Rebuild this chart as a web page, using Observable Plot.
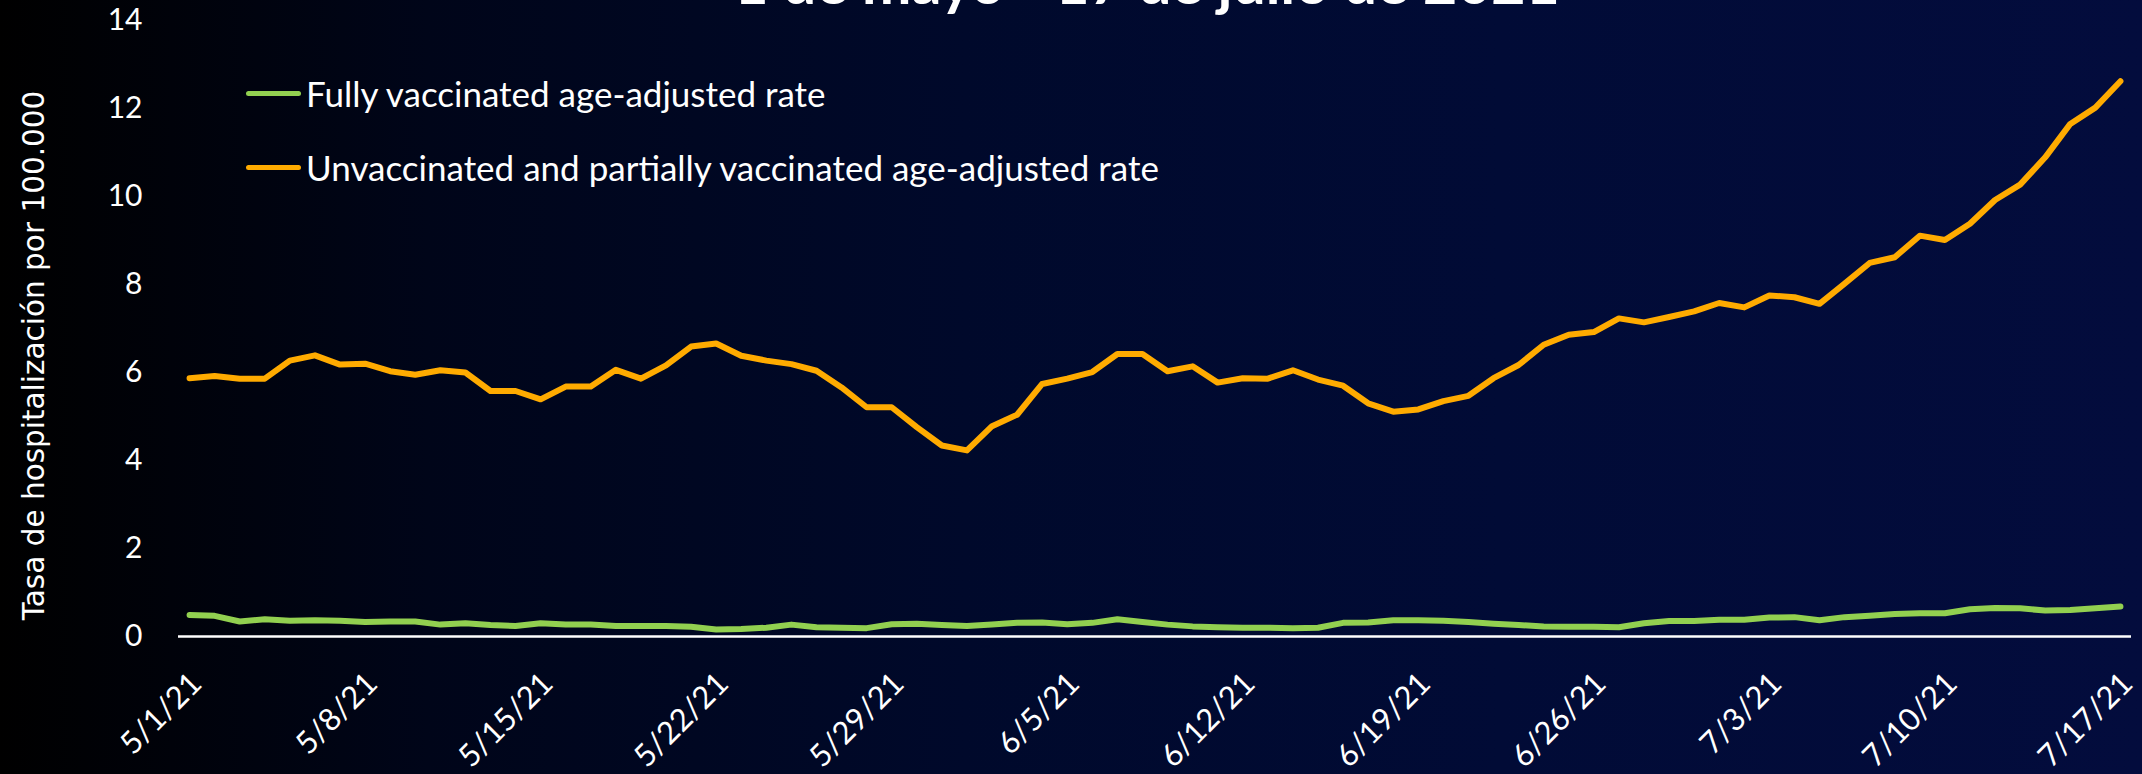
<!DOCTYPE html>
<html><head><meta charset="utf-8">
<script src="https://cdn.jsdelivr.net/npm/d3@7"></script>
<script src="https://cdn.jsdelivr.net/npm/@observablehq/plot@0.6"></script>
<style>
html,body{margin:0;padding:0;width:2142px;height:774px;overflow:hidden;}
body{background:linear-gradient(to right,#000000 0%,#000519 20%,#00092b 45%,#010b36 70%,#030c3d 100%);position:relative;font-family:Lato,sans-serif;}
#chart{position:absolute;left:0;top:0;}
#legend{position:absolute;left:246px;top:73px;color:#fff;font-family:Lato,sans-serif;font-size:35px;}
.row{display:flex;align-items:center;height:40px;line-height:40px;white-space:nowrap;}
.row + .row{margin-top:34px;}
.sw{width:55px;height:5px;border-radius:3px;margin-right:5px;flex:none;}
</style></head><body>
<div id="chart"></div>
<div id="legend"></div>
<script>
const titleText = "1 de mayo - 17 de julio de 2021";
const yTitle = "Tasa de hospitalización por 100.000";
const seriesNames = ["Fully vaccinated age-adjusted rate", "Unvaccinated and partially vaccinated age-adjusted rate"];
const seriesColors = ["#92d050", "#ffab00"];
const startDate = "2021-05-01";
const endDate = "2021-07-17";

const fullyVaccinated = [
  0.49,0.47,0.34,0.39,0.36,0.37,0.36,0.33,0.34,0.34,
  0.27,0.30,0.26,0.24,0.30,0.27,0.27,0.24,0.24,0.24,
  0.22,0.16,0.17,0.20,0.27,0.21,0.20,0.19,0.28,0.29,
  0.26,0.24,0.27,0.31,0.32,0.28,0.31,0.39,0.33,0.27,
  0.23,0.21,0.20,0.20,0.19,0.20,0.31,0.32,0.37,0.37,
  0.36,0.33,0.29,0.26,0.23,0.22,0.22,0.21,0.30,0.35,
  0.35,0.38,0.38,0.43,0.44,0.37,0.44,0.47,0.51,0.53,
  0.53,0.62,0.65,0.64,0.59,0.60,0.64,0.68
];
const unvaccinated = [
  5.87,5.92,5.86,5.86,6.27,6.39,6.18,6.20,6.03,5.95,
  6.05,6.00,5.58,5.58,5.39,5.68,5.68,6.06,5.86,6.16,
  6.59,6.66,6.38,6.27,6.19,6.04,5.66,5.21,5.21,4.76,
  4.34,4.23,4.78,5.04,5.74,5.86,6.01,6.42,6.42,6.03,
  6.14,5.77,5.87,5.86,6.05,5.84,5.70,5.30,5.11,5.16,
  5.35,5.47,5.87,6.17,6.63,6.86,6.92,7.23,7.14,7.26,
  7.39,7.58,7.48,7.75,7.71,7.56,8.02,8.49,8.62,9.11,
  9.01,9.38,9.92,10.27,10.89,11.65,12.02,12.62
];
const tickDateStrings = ["2021-05-01","2021-05-08","2021-05-15","2021-05-22","2021-05-29","2021-06-05","2021-06-12","2021-06-19","2021-06-26","2021-07-03","2021-07-10","2021-07-17"];
const tickLabels = ["5/1/21","5/8/21","5/15/21","5/22/21","5/29/21","6/5/21","6/12/21","6/19/21","6/26/21","7/3/21","7/10/21","7/17/21"];
const yTicks = [0,2,4,6,8,10,12,14];

const start = new Date(startDate + "T00:00Z");
const end = new Date(endDate + "T00:00Z");
const dates = d3.utcDay.range(start, d3.utcDay.offset(end, 1));
const rows = [];
dates.forEach((d, i) => {
  rows.push({date: d, value: fullyVaccinated[i], series: seriesNames[0]});
  rows.push({date: d, value: unvaccinated[i], series: seriesNames[1]});
});
const tickDates = tickDateStrings.map(s => new Date(s + "T00:00Z"));
const labelOf = new Map(tickDates.map((d, i) => [+d, tickLabels[i]]));
const pad = 10.6 * 3600 * 1000;

const chart = Plot.plot({
  width: 2142,
  height: 774,
  marginTop: 20,
  marginBottom: 138,
  marginLeft: 178,
  marginRight: 11,
  style: {background: "transparent", color: "white", overflow: "visible"},
  x: {type: "utc", domain: [new Date(+start - pad), new Date(+end + pad)]},
  y: {domain: [0, 14]},
  color: {domain: seriesNames, range: seriesColors},
  marks: [
    Plot.axisY({ticks: yTicks, tickSize: 0, tickPadding: 36, label: null, fontSize: 30, fontFamily: "Lato", fill: "white"}),
    Plot.axisX({ticks: tickDates, tickFormat: d => labelOf.get(+d), tickRotate: -45, tickSize: 0, tickPadding: 42, dx: 7, label: null, fontSize: 31, fontFamily: "Lato", fill: "white"}),
    Plot.ruleY([0], {stroke: "white", strokeWidth: 2.5}),
    Plot.lineY(rows, {x: "date", y: "value", z: "series", stroke: "series", strokeWidth: 6, strokeLinecap: "round", strokeLinejoin: "round"}),
    Plot.text([yTitle], {frameAnchor: "left", rotate: -90, textAnchor: "middle", lineAnchor: "bottom", dx: -135, dy: 27, fontSize: 29.5, fontFamily: "DejaVu Sans", fill: "white"}),
    Plot.text([titleText], {frameAnchor: "top", textAnchor: "middle", lineAnchor: "bottom", dx: -8, dy: -17, fontSize: 59, fontWeight: "bold", fontFamily: "Lato", fill: "white"})
  ]
});
document.getElementById("chart").appendChild(chart);

const legend = document.getElementById("legend");
seriesNames.forEach((name, i) => {
  const row = document.createElement("div");
  row.className = "row";
  const sw = document.createElement("div");
  sw.className = "sw";
  sw.style.background = seriesColors[i];
  const label = document.createElement("span");
  label.textContent = name;
  row.appendChild(sw);
  row.appendChild(label);
  legend.appendChild(row);
});
</script></body></html>
